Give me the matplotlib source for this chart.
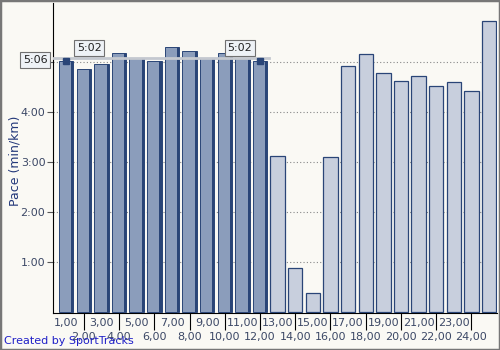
import numpy as np
import matplotlib
matplotlib.use("Agg")
import matplotlib.pyplot as plt
from matplotlib.patches import Rectangle

# lap number (km) and pace in minutes per km
laps = np.arange(1, 26)
pace = [5.02, 4.86, 4.97, 5.18, 5.09, 5.02, 5.30, 5.22, 5.09, 5.19, 5.09, 5.02,
        3.12, 0.87, 0.37, 3.10, 4.93, 5.16, 4.78, 4.63, 4.73, 4.52, 4.60, 4.42, 5.83]
n_selected = 12
sel_avg_label = "5:06"
sel_end_labels = ["5:02", "5:02"]

ytick_vals = [1, 2, 3, 4, 5]
ytick_labels = ["1:00", "2:00", "3:00", "4:00", ""]
odd_km = list(range(1, 24, 2))
even_km = list(range(2, 25, 2))

bg = "#faf9f4"
dark_fill = "#8b9dbb"
light_fill = "#c8cfdd"
edge = "#2a4577"
txt = "#3c4866"

fig = plt.figure(figsize=(5, 3.5), dpi=100, facecolor=bg)
ax = fig.add_axes([0.106, 0.106, 0.888, 0.885])
ax.set_facecolor(bg)

pace = np.array(pace)
sel = laps <= n_selected
w = 0.82
ax.bar(laps[sel], pace[sel], width=w, color=dark_fill, edgecolor=edge, linewidth=0.7, zorder=3)
ax.bar(laps[sel] + w / 2 - 0.06, pace[sel], width=0.12, color=edge, linewidth=0, zorder=3)
ax.bar(laps[~sel], pace[~sel], width=w, color=light_fill, edgecolor=edge, linewidth=0.9, zorder=3)

for v in ytick_vals:
    ax.axhline(v, color="#888888", linestyle=(0, (1, 2)), linewidth=0.8, zorder=1)

# selection marker
avg = pace[sel].mean()
x0, x1 = laps[sel][0], laps[sel][-1]
ax.plot([0.2, x1 + 0.5], [avg, avg], color="#c4c8cf", linewidth=2, zorder=4)
ax.plot([x0, x1], [pace[sel][0], pace[sel][-1]], linestyle="none", marker="s",
        markersize=4, color=edge, zorder=5)
box = dict(boxstyle="square,pad=0.25", facecolor="#eef2f6", edgecolor="#707070", linewidth=0.8)
ax.text(x0 + 1.3, avg + 0.2, sel_end_labels[0], fontsize=8, color="#222222",
        ha="center", va="center", bbox=box, zorder=6)
ax.text(x1 - 1.15, avg + 0.2, sel_end_labels[1], fontsize=8, color="#222222",
        ha="center", va="center", bbox=box, zorder=6)
ax.text(-0.05, avg - 0.04, sel_avg_label, fontsize=8, color="#222222",
        ha="right", va="center", bbox=box, zorder=6, clip_on=False)

ax.set_xlim(0.25, 25.45)
ax.set_ylim(-0.02, 6.18)

ax.set_yticks(ytick_vals)
ax.set_yticklabels(ytick_labels)
ax.tick_params(axis="y", length=4.5, color="#555555", labelsize=8, labelcolor=txt, pad=1)

ax.set_xticks(even_km)
ax.set_xticklabels([f"{k},00" for k in even_km])
ax.set_xticks(odd_km, minor=True)
ax.set_xticklabels([f"{k},00" for k in odd_km], minor=True)
ax.tick_params(axis="x", which="major", length=12, color="black", labelsize=8,
               labelcolor=txt, pad=2)
ax.tick_params(axis="x", which="minor", length=0, labelsize=8, labelcolor=txt, pad=4)

for s in ["top", "right"]:
    ax.spines[s].set_visible(False)
ax.spines["left"].set_color("black")
ax.spines["bottom"].set_color("black")

ax.set_ylabel("Pace (min/km)", fontsize=9, color="#23387a")
ax.yaxis.set_label_coords(-0.072, 0.49)
fig.text(0.008, 0.018, "Created by SportTracks", fontsize=8, color="#2020c8")

fig.patches.append(Rectangle((0, 0), 1, 1, transform=fig.transFigure, fill=False,
                             edgecolor="#777777", linewidth=2.5))

fig.savefig("out.png", dpi=100, facecolor=bg)
